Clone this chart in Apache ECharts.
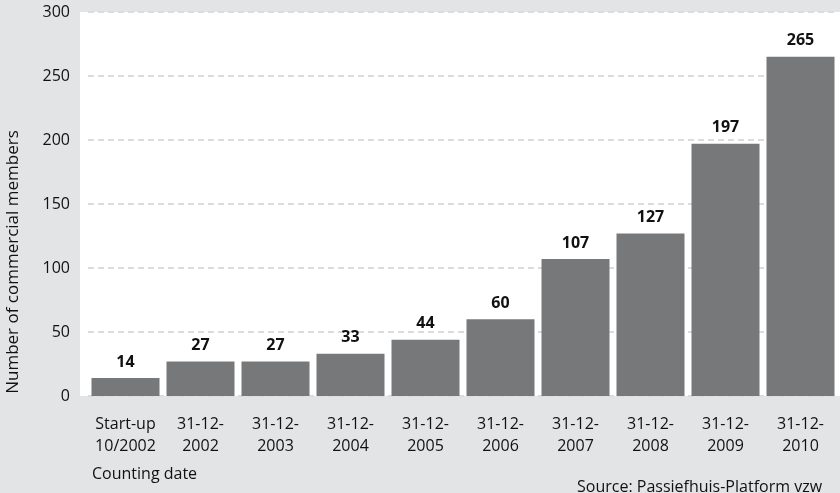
<!DOCTYPE html>
<html>
<head>
<meta charset="utf-8">
<script src="https://cdn.jsdelivr.net/npm/echarts@6/dist/echarts.min.js"></script>
<style>
  html, body { margin: 0; padding: 0; background: #e3e4e6; }
  #chart { width: 840px; height: 493px; }
</style>
</head>
<body>
<div id="chart"></div>
<script>
// counting dates and member counts
var dates = ['Start-up\n10/2002', '31-12-\n2002', '31-12-\n2003', '31-12-\n2004', '31-12-\n2005',
    '31-12-\n2006', '31-12-\n2007', '31-12-\n2008', '31-12-\n2009', '31-12-\n2010'];
var members = [14, 27, 27, 33, 44, 60, 107, 127, 197, 265];
var yTicks = [0, 50, 100, 150, 200, 250, 300];

var font = '"Open Sans", Lato, sans-serif';

var chart = echarts.init(document.getElementById('chart'));

chart.setOption({
    backgroundColor: '#e3e4e6',
    animation: false,
    grid: {
        left: 88,
        right: 2,
        top: 12,
        bottom: 97
    },
    graphic: [
        // white plot panel, a bit wider than the category band
        { type: 'rect', left: 80, top: 12, z: -10, silent: true,
          shape: { width: 760, height: 384 }, style: { fill: '#ffffff' } },
        { type: 'text', left: 92, top: 466,
          style: { text: 'Counting date', fill: '#111', font: '16px ' + font } },
        { type: 'text', left: 577, top: 479,
          style: { text: 'Source: Passiefhuis-Platform vzw', fill: '#111', font: '16px ' + font } },
        { type: 'text', x: 5, y: 262, rotation: Math.PI / 2,
          style: { text: 'Number of commercial members', fill: '#111', font: '17px ' + font,
                   align: 'center', verticalAlign: 'top' } }
    ],
    xAxis: {
        type: 'category',
        data: dates,
        axisLine: { show: false },
        axisTick: { show: false },
        axisLabel: {
            color: '#111',
            fontFamily: font,
            fontSize: 16,
            lineHeight: 22,
            margin: 17,
            interval: 0
        }
    },
    yAxis: {
        type: 'value',
        min: yTicks[0],
        max: yTicks[yTicks.length - 1],
        interval: 50,
        axisLine: { show: false },
        axisTick: { show: false },
        axisLabel: {
            color: '#111',
            fontFamily: font,
            fontSize: 16,
            margin: 18
        },
        splitLine: {
            lineStyle: { color: '#dcdcdc', type: [6, 4], width: 2 }
        }
    },
    series: [{
        type: 'bar',
        data: members,
        barWidth: 68,
        itemStyle: { color: '#77787a' },
        label: {
            show: true,
            position: 'top',
            distance: 8,
            color: '#111',
            fontFamily: font,
            fontWeight: 'bold',
            fontSize: 16
        }
    }]
});
</script>
</body>
</html>
